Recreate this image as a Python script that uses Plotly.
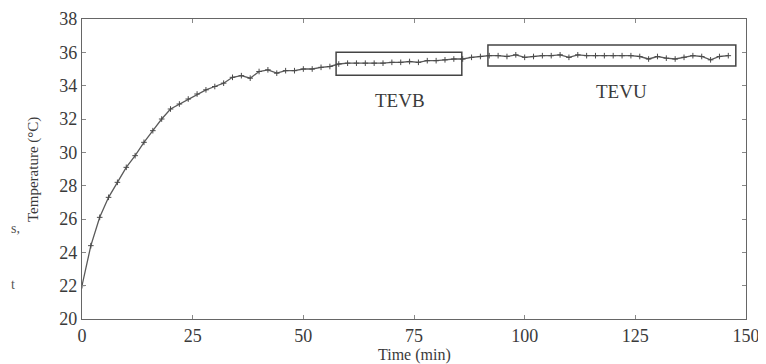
import plotly.graph_objects as go

time_min = [0, 2, 4, 6, 8, 10, 12, 14, 16, 18, 20, 22, 24, 26, 28, 30, 32, 34, 36, 38,
            40, 42, 44, 46, 48, 50, 52, 54, 56, 58, 60, 62, 64, 66, 68, 70, 72, 74, 76, 78,
            80, 82, 84, 86, 88, 90, 92, 94, 96, 98, 100, 102, 104, 106, 108, 110, 112, 114,
            116, 118, 120, 122, 124, 126, 128, 130, 132, 134, 136, 138, 140, 142, 144, 146]
temperature = [22.0, 24.4, 26.1, 27.3, 28.2, 29.1, 29.8, 30.6, 31.3, 32.0, 32.6, 32.9, 33.2,
               33.5, 33.75, 33.95, 34.15, 34.5, 34.6, 34.45, 34.85, 34.95, 34.75, 34.9, 34.9,
               35.0, 35.0, 35.1, 35.15, 35.3, 35.35, 35.35, 35.35, 35.35, 35.35, 35.4, 35.4,
               35.45, 35.4, 35.5, 35.5, 35.55, 35.6, 35.6, 35.7, 35.75, 35.8, 35.8, 35.75,
               35.85, 35.7, 35.75, 35.8, 35.8, 35.85, 35.7, 35.85, 35.8, 35.8, 35.8, 35.8,
               35.8, 35.8, 35.75, 35.6, 35.75, 35.65, 35.6, 35.7, 35.8, 35.75, 35.55, 35.75, 35.8]

x_ticks = [0, 25, 50, 75, 100, 125, 150]
y_ticks = [20, 22, 24, 26, 28, 30, 32, 34, 36, 38]

box_names = ["TEVB", "TEVU"]
box_x0 = [57.4, 91.7]
box_x1 = [85.8, 147.7]
box_y0 = [34.62, 35.18]
box_y1 = [36.0, 36.44]
label_x = [71.8, 121.8]
label_y = [33.84, 34.4]

FONT = "Liberation Serif"
INK = "#3a3a3a"

fig = go.Figure()
fig.add_trace(go.Scatter(
    x=time_min, y=temperature, mode="lines+markers",
    line=dict(color="#5a5a5a", width=1.3),
    marker=dict(symbol="cross-thin", size=4, line=dict(color="#4a4a4a", width=1)),
    showlegend=False,
))

for i, name in enumerate(box_names):
    fig.add_shape(type="rect", x0=box_x0[i], x1=box_x1[i], y0=box_y0[i], y1=box_y1[i],
                  xref="x", yref="y", line=dict(color="#444444", width=1.5))
    fig.add_annotation(x=label_x[i], y=label_y[i], text=name, showarrow=False,
                       xref="x", yref="y", yanchor="top",
                       font=dict(family=FONT, size=19, color=INK))

axis_common = dict(
    showline=True, linecolor="#666666", linewidth=1.3, mirror="ticks",
    ticks="inside", ticklen=4, tickcolor="#888888", tickwidth=1,
    showgrid=False, zeroline=False, automargin=False,
    tickfont=dict(family=FONT, size=18, color=INK),
)

fig.update_xaxes(range=[0, 150], tickvals=x_ticks, ticktext=[str(v) for v in x_ticks],
                 **axis_common)
fig.update_yaxes(range=[20, 38], tickvals=y_ticks, ticktext=[str(v) for v in y_ticks],
                 **axis_common)

# axis titles placed as annotations
fig.add_annotation(x=-0.0738, y=0.5, xref="paper", yref="paper", text="Temperature (°C)",
                   textangle=-90, showarrow=False, xanchor="center", yanchor="middle",
                   font=dict(family=FONT, size=15, color=INK))
fig.add_annotation(x=0.5, y=-(355 - 319) / 300, xref="paper", yref="paper", text="Time (min)",
                   showarrow=False, xanchor="center", yanchor="middle",
                   font=dict(family=FONT, size=16, color=INK))

# page fragments at the left edge of the scan
fig.add_annotation(x=-(82 - 9) / 664, y=-(238 - 319) / 300, xref="paper", yref="paper", text="s,",
                   showarrow=False, xanchor="left", font=dict(family=FONT, size=14, color="#555555"))
fig.add_annotation(x=-(82 - 9) / 664, y=-(294 - 319) / 300, xref="paper", yref="paper", text="t",
                   showarrow=False, xanchor="left", font=dict(family=FONT, size=14, color="#555555"))

# the page body has an 8 px margin, so the figure is shifted by 8 px
fig.update_layout(
    width=758, height=356,
    margin=dict(l=74, r=20, t=11, b=45, autoexpand=False),
    paper_bgcolor="white", plot_bgcolor="white",
    font=dict(family=FONT, color=INK),
)

fig.write_html("out.html")
